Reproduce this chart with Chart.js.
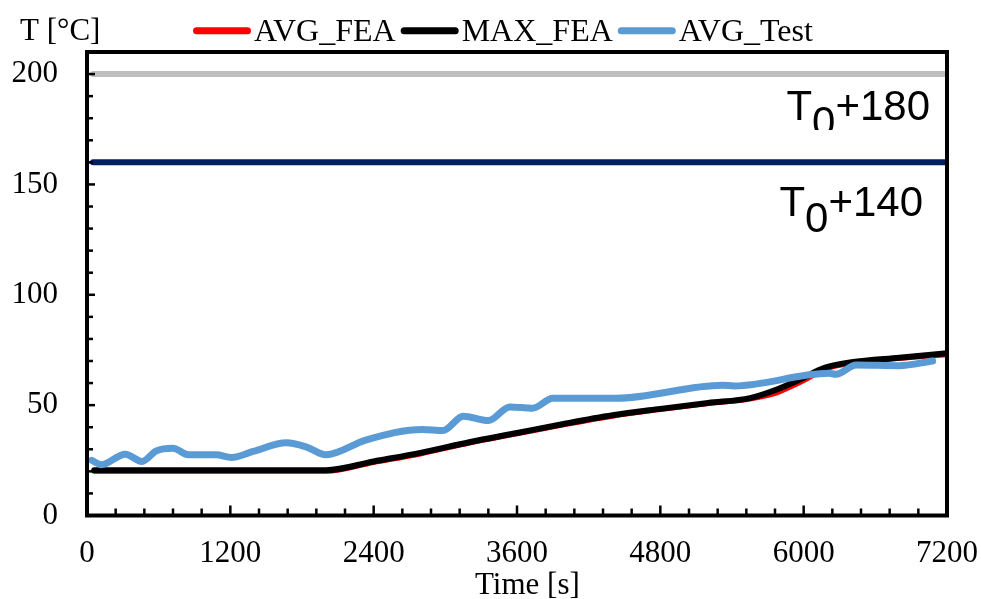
<!DOCTYPE html>
<html><head><meta charset="utf-8">
<style>html,body{margin:0;padding:0;background:#fff}</style>
<script src="https://cdn.jsdelivr.net/npm/chart.js@4/dist/chart.umd.min.js"></script>
</head><body>
<canvas id="c" width="981" height="599"></canvas>
<script>
// ---- data ----
const feaTime  = [60, 2000, 2400, 2800, 3200, 3600, 4000, 4400, 4800, 5200, 5550, 5770, 5960, 6180, 6400, 6800, 7200];
const avgFea   = [20, 20, 24, 28, 32.8, 37, 41.2, 45, 48, 50.7, 52.8, 55.5, 60, 66.2, 69, 71.2, 72.8];
const maxFea   = [20.5, 20.5, 24.5, 28.5, 33.2, 37.4, 41.6, 45.4, 48.3, 51, 53.2, 57, 61.4, 67, 69.4, 71.5, 73.5];
const testTime = [40, 120, 320, 460, 580, 720, 850, 1080, 1210, 1390, 1670, 1840, 2000, 2340, 2810, 2980, 3150, 3360, 3540, 3730, 3900, 4430, 5320, 5420, 6210, 6270, 6440, 6800, 7080];
const avgTest  = [25, 23, 27.8, 24.5, 29.3, 30.5, 27.5, 27.5, 26.3, 29, 33, 31, 27.5, 34.3, 39, 38.5, 45, 43, 49.2, 48.6, 53.1, 53.1, 59, 58.7, 64.4, 64, 68.2, 67.9, 70];
const limitTime = [50, 7200];
const limit180  = [200, 200];
const limit140  = [160, 160];
const xTickLabels = [0, 1200, 2400, 3600, 4800, 6000, 7200];
const yTickLabels = [0, 50, 100, 150, 200];
const seriesNames = ['AVG_FEA', 'MAX_FEA', 'AVG_Test'];
const annotations = [{base: 'T', sub: '0', rest: '+180'}, {base: 'T', sub: '0', rest: '+140'}];

const pts = (xs, ys) => xs.map((x, i) => ({x: x, y: ys[i]}));

Chart.defaults.font.family = "'Liberation Serif','Times New Roman',serif";
Chart.defaults.font.size = 31;
Chart.defaults.color = '#000';

const serif = "'Liberation Serif','Times New Roman',serif";
const sans = "'Liberation Sans',Arial,sans-serif";

const decor = {
  id: 'decor',
  afterDraw(chart) {
    const ctx = chart.ctx, a = chart.chartArea;
    const xs = chart.scales.x, ys = chart.scales.y;
    ctx.save();
    // inward tick marks
    ctx.strokeStyle = '#000'; ctx.lineWidth = 2.5; ctx.lineCap = 'butt';
    ys.ticks.forEach(t => {
      if (t.value <= 0 || t.value >= 210) return;
      const y = ys.getPixelForValue(t.value);
      const len = (t.value % 50 === 0) ? 8 : 6;
      ctx.beginPath(); ctx.moveTo(a.left, y); ctx.lineTo(a.left + len, y); ctx.stroke();
    });
    xs.ticks.forEach(t => {
      if (t.value <= 0 || t.value >= 7200) return;
      const x = xs.getPixelForValue(t.value);
      const len = (t.value % 1200 === 0) ? 10 : 7;
      ctx.beginPath(); ctx.moveTo(x, a.bottom); ctx.lineTo(x, a.bottom - len); ctx.stroke();
    });
    // frame
    ctx.lineWidth = 4;
    ctx.strokeRect(a.left, a.top, a.right - a.left, a.bottom - a.top);

    // title and axis title
    ctx.fillStyle = '#000';
    ctx.textBaseline = 'alphabetic'; ctx.textAlign = 'left';
    ctx.font = '31px ' + serif;
    ctx.fillText('T [°C]', 20, 39.5);
    ctx.fillText('Time [s]', 475, 593.5);

    // legend
    let lx = 193;
    ctx.font = '32px ' + serif;
    for (let i = 0; i < 3; i++) {
      const ds = chart.data.datasets[i];
      ctx.strokeStyle = ds.borderColor; ctx.lineWidth = 7; ctx.lineCap = 'round';
      ctx.beginPath(); ctx.moveTo(lx + 3.5, 30.7); ctx.lineTo(lx + 58 - 3.5, 30.7); ctx.stroke();
      lx += 61;
      ctx.fillStyle = '#000';
      ctx.fillText(ds.label, lx, 40.5);
      lx += ctx.measureText(ds.label).width + 5;
    }

    // annotations
    const drawAnn = (ann, right, baseline, clipBottom) => {
      ctx.save();
      if (clipBottom) { ctx.beginPath(); ctx.rect(0, 0, chart.width, clipBottom); ctx.clip(); }
      ctx.font = '42px ' + sans; ctx.fillStyle = '#000';
      const w1 = ctx.measureText(ann.base).width, w2 = ctx.measureText(ann.sub).width, w3 = ctx.measureText(ann.rest).width;
      let x = right - (w1 + w2 + w3);
      ctx.fillText(ann.base, x, baseline); x += w1;
      ctx.fillText(ann.sub, x, baseline + 16); x += w2;
      ctx.fillText(ann.rest, x, baseline);
      ctx.restore();
    };
    drawAnn(annotations[0], 930, 119.5, 130);
    drawAnn(annotations[1], 923, 216, null);
    ctx.restore();
  }
};

new Chart(document.getElementById('c'), {
  type: 'line',
  data: {
    datasets: [
      {label: seriesNames[0], data: pts(feaTime, avgFea), borderColor: '#FF0000', borderWidth: 5, order: 3, cubicInterpolationMode: 'monotone'},
      {label: seriesNames[1], data: pts(feaTime, maxFea), borderColor: '#000000', borderWidth: 6, order: 2, cubicInterpolationMode: 'monotone'},
      {label: seriesNames[2], data: pts(testTime, avgTest), borderColor: '#5B9BD5', borderWidth: 7, order: 1, cubicInterpolationMode: 'monotone'},
      {label: 'T0+180', data: pts(limitTime, limit180), borderColor: '#BFBFBF', borderWidth: 6, order: 5},
      {label: 'T0+140', data: pts(limitTime, limit140), borderColor: '#002060', borderWidth: 6, order: 4}
    ]
  },
  options: {
    responsive: false, animation: false, devicePixelRatio: 1,
    layout: {padding: {left: 0, right: 34, top: 52, bottom: 0}},
    elements: {point: {radius: 0, hoverRadius: 0}, line: {borderCapStyle: 'round', borderJoinStyle: 'round', fill: false}},
    plugins: {legend: {display: false}, tooltip: {enabled: false}, title: {display: false}},
    scales: {
      x: {
        type: 'linear', min: 0, max: 7200,
        grid: {display: false}, border: {display: false},
        ticks: {stepSize: 240, autoSkip: false, maxRotation: 0, minRotation: 0, padding: 12,
          callback: v => xTickLabels.includes(v) ? String(v) : ''},
        afterFit: s => { s.height = 83.5; s.paddingLeft = 0; s.paddingRight = 0; }
      },
      y: {
        type: 'linear', min: 0, max: 210,
        grid: {display: false}, border: {display: false},
        ticks: {stepSize: 10, autoSkip: false, padding: 21,
          callback: v => yTickLabels.includes(v) ? String(v) : ''},
        afterFit: s => { s.width = 87; s.paddingTop = 0; s.paddingBottom = 0; }
      }
    }
  },
  plugins: [decor]
});
</script>
</body></html>
